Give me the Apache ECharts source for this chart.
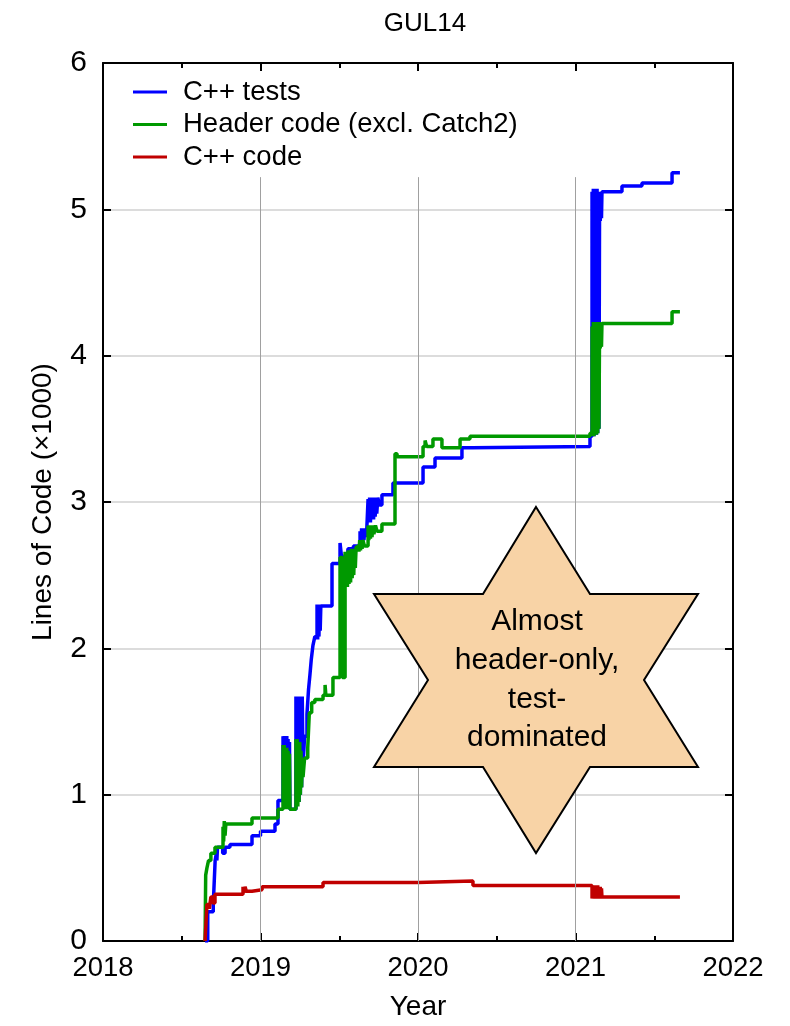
<!DOCTYPE html>
<html style="height: 100%">
<head>
    <meta charset="utf-8">
</head>
<body style="height: 100%; margin: 0; background: #fff">
<div id="loc_container" style="width: 790px; height: 1026px"></div>
<script src="https://cdn.jsdelivr.net/npm/echarts@6/dist/echarts.min.js"></script>
<script type="text/javascript">

    // [year, lines of code / 1000]
    var testsData = [
        [2018.648, 0], [2018.665, 0.20], [2018.700, 0.25], [2018.712, 0.55], [2018.720, 0.60],
        [2018.723, 0.55], [2018.727, 0.64], [2018.760, 0.60], [2018.775, 0.64], [2018.806, 0.66],
        [2018.946, 0.72], [2019.000, 0.75], [2019.092, 0.80], [2019.111, 0.96],
        [2019.143, 1.40], [2019.147, 0.92], [2019.151, 1.40], [2019.155, 0.92], [2019.159, 1.40],
        [2019.163, 0.92], [2019.167, 1.40], [2019.171, 0.92], [2019.175, 1.38], [2019.180, 0.92],
        [2019.184, 1.36], [2019.187, 0.90],
        [2019.225, 1.67], [2019.229, 0.95], [2019.233, 1.67], [2019.237, 0.95], [2019.241, 1.67],
        [2019.245, 0.95], [2019.249, 1.67], [2019.253, 1.00], [2019.257, 1.67], [2019.261, 1.05],
        [2019.265, 1.67], [2019.270, 1.20],
        [2019.280, 1.40], [2019.295, 1.55], [2019.305, 1.72], [2019.314, 1.82], [2019.322, 1.92],
        [2019.333, 2.02], [2019.345, 2.08],
        [2019.359, 2.30], [2019.363, 2.06], [2019.367, 2.30], [2019.371, 2.08], [2019.375, 2.30],
        [2019.379, 2.12], [2019.383, 2.29], [2019.454, 2.58], [2019.505, 2.72], [2019.515, 2.62],
        [2019.537, 2.64], [2019.555, 2.68], [2019.590, 2.70],
        [2019.632, 2.80], [2019.637, 2.72], [2019.642, 2.82], [2019.647, 2.73], [2019.652, 2.82],
        [2019.657, 2.74], [2019.662, 2.82], [2019.668, 2.76], [2019.675, 2.82],
        [2019.683, 3.02], [2019.688, 2.86], [2019.693, 3.03], [2019.698, 2.86], [2019.703, 3.03],
        [2019.708, 2.88], [2019.713, 3.03], [2019.718, 2.88], [2019.723, 3.03], [2019.728, 2.90],
        [2019.733, 3.03], [2019.738, 2.92], [2019.745, 3.03], [2019.755, 2.98], [2019.771, 3.05],
        [2019.841, 3.13], [2020.032, 3.24], [2020.108, 3.30], [2020.279, 3.37], [2020.343, 3.38],
        [2021.092, 3.45],
        [2021.105, 5.12], [2021.109, 3.45], [2021.113, 5.14], [2021.117, 3.45], [2021.121, 5.14],
        [2021.125, 3.46], [2021.129, 5.13], [2021.133, 3.46], [2021.137, 5.14], [2021.141, 3.47],
        [2021.145, 5.12], [2021.149, 3.50], [2021.153, 5.12], [2021.157, 4.92], [2021.161, 5.10],
        [2021.165, 4.94], [2021.168, 5.12],
        [2021.295, 5.16], [2021.422, 5.18], [2021.613, 5.25], [2021.663, 5.25]
    ];
    var headerData = [
        [2018.648, 0], [2018.652, 0.45], [2018.660, 0.50], [2018.670, 0.55], [2018.685, 0.60],
        [2018.711, 0.64], [2018.762, 0.78], [2018.766, 0.68], [2018.770, 0.82], [2018.775, 0.72],
        [2018.780, 0.80], [2018.946, 0.84], [2019.111, 0.90],
        [2019.143, 1.34], [2019.147, 0.90], [2019.151, 1.34], [2019.155, 0.90], [2019.159, 1.32],
        [2019.163, 0.90], [2019.167, 1.32], [2019.171, 0.90], [2019.175, 1.30], [2019.180, 0.90],
        [2019.184, 1.28], [2019.187, 0.90],
        [2019.225, 1.38], [2019.229, 0.92], [2019.233, 1.38], [2019.237, 0.92], [2019.241, 1.36],
        [2019.245, 0.95], [2019.249, 1.36], [2019.253, 1.00], [2019.257, 1.30], [2019.261, 1.05],
        [2019.265, 1.20], [2019.270, 1.12],
        [2019.280, 1.25], [2019.300, 1.32], [2019.310, 1.56], [2019.325, 1.63], [2019.345, 1.65],
        [2019.397, 1.68], [2019.410, 1.75], [2019.415, 1.68], [2019.460, 1.80],
        [2019.505, 2.62], [2019.520, 1.80],
        [2019.537, 2.66], [2019.542, 2.42], [2019.547, 2.66], [2019.552, 2.42], [2019.557, 2.67],
        [2019.562, 2.44], [2019.567, 2.67], [2019.572, 2.45], [2019.577, 2.68], [2019.582, 2.48],
        [2019.587, 2.68], [2019.592, 2.50], [2019.597, 2.68], [2019.602, 2.55], [2019.607, 2.69],
        [2019.613, 2.70], [2019.625, 2.66], [2019.630, 2.74], [2019.635, 2.67], [2019.640, 2.74],
        [2019.645, 2.68], [2019.650, 2.74], [2019.660, 2.70],
        [2019.683, 2.84], [2019.688, 2.74], [2019.693, 2.84], [2019.698, 2.75], [2019.703, 2.84],
        [2019.708, 2.76], [2019.713, 2.84], [2019.720, 2.78], [2019.730, 2.84], [2019.740, 2.80],
        [2019.771, 2.85], [2019.854, 3.33], [2019.867, 3.31], [2020.032, 3.38], [2020.045, 3.42],
        [2020.055, 3.38], [2020.095, 3.43], [2020.152, 3.37], [2020.267, 3.43], [2020.330, 3.45],
        [2021.092, 3.47],
        [2021.105, 4.20], [2021.109, 3.45], [2021.113, 4.23], [2021.117, 3.45], [2021.121, 4.23],
        [2021.125, 3.46], [2021.129, 4.22], [2021.133, 3.46], [2021.137, 4.23], [2021.141, 3.47],
        [2021.145, 4.22], [2021.149, 3.50], [2021.153, 4.23], [2021.157, 4.05], [2021.161, 4.22],
        [2021.165, 4.06], [2021.168, 4.22],
        [2021.613, 4.30], [2021.663, 4.30]
    ];
    var cppData = [
        [2018.648, 0], [2018.655, 0.15], [2018.660, 0.25], [2018.675, 0.22], [2018.685, 0.30],
        [2018.698, 0.26], [2018.711, 0.32], [2018.889, 0.37], [2018.895, 0.33], [2018.902, 0.37],
        [2018.910, 0.34], [2018.946, 0.35], [2019.010, 0.37], [2019.397, 0.40], [2020.000, 0.41],
        [2020.349, 0.38],
        [2021.105, 0.29], [2021.109, 0.38], [2021.113, 0.29], [2021.117, 0.38], [2021.121, 0.29],
        [2021.125, 0.38], [2021.129, 0.29], [2021.133, 0.38], [2021.137, 0.29], [2021.141, 0.38],
        [2021.145, 0.29], [2021.149, 0.37], [2021.153, 0.29], [2021.157, 0.37], [2021.161, 0.29],
        [2021.165, 0.36], [2021.168, 0.30],
        [2021.613, 0.31], [2021.625, 0.30], [2021.663, 0.30]
    ];

    var seriesNames = ['C++ tests', 'Header code (excl. Catch2)', 'C++ code'];
    var seriesColors = ['#0000ff', '#009900', '#c00000'];
    var gridYears = [2019, 2020, 2021];
    var gridTop = 5.22;   // vertical grid stops under the legend box

    var textFont = '"Liberation Sans", Arial, sans-serif';

    var vGrid = gridYears.map(function (y) {
        return [{coord: [y, 0]}, {coord: [y, gridTop]}];
    });

    function stepSeries(name, data, color) {
        return {
            name: name,
            type: 'line',
            step: 'end',
            showSymbol: false,
            symbol: 'none',
            z: 3,
            lineStyle: {width: 3.5, color: color},
            itemStyle: {color: color},
            data: data
        };
    }

    var chart = echarts.init(document.getElementById('loc_container'));

    var option = {
        animation: false,
        backgroundColor: '#fff',
        title: {
            text: 'GUL14',
            left: 420,
            top: 6,
            textAlign: 'center',
            textStyle: {fontFamily: textFont, fontSize: 26, fontWeight: 'normal', color: '#000'}
        },
        legend: {
            data: seriesNames,
            orient: 'vertical',
            left: 128,
            top: 73,
            icon: 'rect',
            itemWidth: 34,
            itemHeight: 3,
            itemGap: 4.5,
            selectedMode: false,
            textStyle: {fontFamily: textFont, fontSize: 27.5, color: '#000', padding: [0, 0, 0, 11]}
        },
        grid: {left: 103, right: 57, top: 63, bottom: 82},
        xAxis: [
            {
                type: 'value', min: 2018, max: 2022, interval: 1,
                name: 'Year', nameLocation: 'middle', nameGap: 52,
                nameTextStyle: {fontFamily: textFont, fontSize: 28, color: '#000'},
                axisLine: {onZero: false, lineStyle: {color: '#000', width: 2}},
                axisTick: {inside: true, length: 8, lineStyle: {color: '#000', width: 2}},
                minorTick: {show: true, splitNumber: 2, length: 5, lineStyle: {color: '#000', width: 2}},
                axisLabel: {
                    fontFamily: textFont, fontSize: 27.5, color: '#000', margin: 13,
                    formatter: function (v) { return String(v); }
                },
                splitLine: {show: false}
            },
            {
                type: 'value', min: 2018, max: 2022, interval: 1, position: 'top',
                axisLine: {onZero: false, lineStyle: {color: '#000', width: 2}},
                axisTick: {inside: true, length: 8, lineStyle: {color: '#000', width: 2}},
                minorTick: {show: true, splitNumber: 2, length: 5, lineStyle: {color: '#000', width: 2}},
                axisLabel: {show: false},
                splitLine: {show: false}
            }
        ],
        yAxis: [
            {
                type: 'value', min: 0, max: 6, interval: 1,
                name: 'Lines of Code (×1000)', nameLocation: 'middle', nameGap: 46,
                nameTextStyle: {fontFamily: textFont, fontSize: 28, color: '#000'},
                axisLine: {onZero: false, lineStyle: {color: '#000', width: 2}},
                axisTick: {inside: true, length: 8, lineStyle: {color: '#000', width: 2}},
                axisLabel: {fontFamily: textFont, fontSize: 30, color: '#000', margin: 16},
                splitLine: {show: true, lineStyle: {color: '#d0d0d0', width: 1.5}}
            },
            {
                type: 'value', min: 0, max: 6, interval: 1, position: 'right',
                axisLine: {onZero: false, lineStyle: {color: '#000', width: 2}},
                axisTick: {inside: true, length: 8, lineStyle: {color: '#000', width: 2}},
                axisLabel: {show: false},
                splitLine: {show: false}
            }
        ],
        series: [
            {
                name: 'vgrid',
                type: 'line',
                z: 1,
                silent: true,
                data: [],
                markLine: {
                    silent: true,
                    symbol: 'none',
                    label: {show: false},
                    lineStyle: {color: '#a0a0a0', width: 1, type: 'solid'},
                    data: vGrid
                }
            },
            stepSeries(seriesNames[0], testsData, seriesColors[0]),
            stepSeries(seriesNames[1], headerData, seriesColors[1]),
            stepSeries(seriesNames[2], cppData, seriesColors[2])
        ],
        graphic: [
            {
                type: 'polygon',
                z: 10,
                shape: {
                    points: [
                        [536, 507], [590, 594], [698, 594], [644, 680], [698, 767], [590, 767],
                        [536, 853], [483, 767], [374, 767], [428, 680], [374, 594], [483, 594]
                    ]
                },
                style: {fill: '#f8d3a6', stroke: '#000', lineWidth: 2}
            },
            {
                type: 'text',
                z: 11,
                x: 537,
                y: 680,
                style: {
                    text: 'Almost\nheader-only,\ntest-\ndominated',
                    fontFamily: textFont,
                    fontSize: 30,
                    lineHeight: 38.7,
                    fill: '#000',
                    align: 'center',
                    verticalAlign: 'middle'
                }
            }
        ]
    };

    chart.setOption(option);
</script>
</body>
</html>
